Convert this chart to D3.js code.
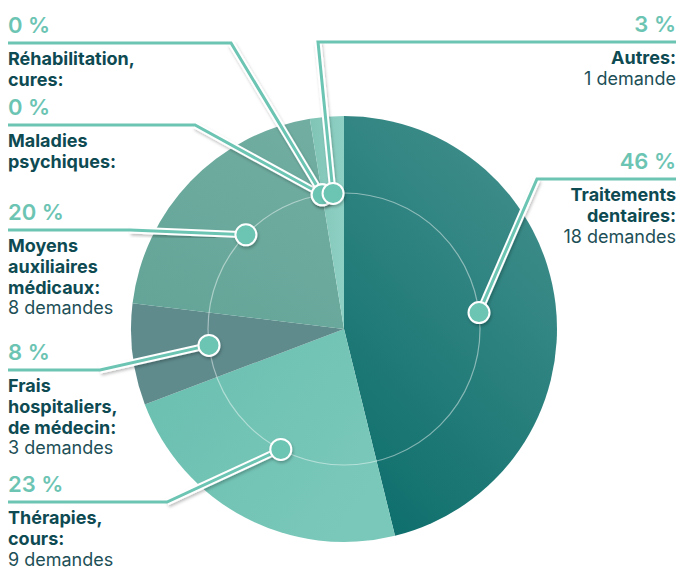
<!DOCTYPE html>
<html>
<head>
<meta charset="utf-8">
<script src="https://cdn.jsdelivr.net/npm/d3@7"></script>
<style>
  body { margin: 0; background: #fff; }
  svg { display: block; font-family: Inter, "Noto Sans", sans-serif; }
</style>
</head>
<body>
<div id="chart"></div>
<script>
// Data
const categories = ["Traitements dentaires", "Thérapies, cours", "Frais hospitaliers, de médecin",
                    "Moyens auxiliaires médicaux", "Maladies psychiques", "Réhabilitation, cures", "Autres"];
const demandes = [18, 9, 3, 8, 0, 0, 1];
const percentLabels = ["46 %", "23 %", "8 %", "20 %", "0 %", "0 %", "3 %"];
const nameLines = [
    ["Traitements", "dentaires:"],
    ["Thérapies,", "cours:"],
    ["Frais", "hospitaliers,", "de médecin:"],
    ["Moyens", "auxiliaires", "médicaux:"],
    ["Maladies", "psychiques:"],
    ["Réhabilitation,", "cures:"],
    ["Autres:"]
];
const countLabels = ["18 demandes", "9 demandes", "3 demandes", "8 demandes", "", "", "1 demande"];

// Label layout (side, underline y, elbow x)
const labelLayout = [
    { side: "right", y: 179, elbow: 537 },
    { side: "left",  y: 502, elbow: 167 },
    { side: "left",  y: 370, elbow: 100 },
    { side: "left",  y: 230, elbow: 130 },
    { side: "left",  y: 125, elbow: 195 },
    { side: "left",  y: 43,  elbow: 231 },
    { side: "right", y: 42,  elbow: 318 }
];

const sliceColors = ["url(#gDental)", "url(#gTherap)", "#5f8b8d", "url(#gMoyens)", "#6fb2a5", "#7cc0b2", "url(#gAutres)"];

const width = 678, height = 570;
const cx = 344, cy = 329;
const outerR = 213, dotR = 136;
const teal = "#6cc4b3", dark = "#0d4a52";
const lineGap = 20.8, firstGap = 22;

const svg = d3.select("#chart").append("svg")
    .attr("width", width)
    .attr("height", height);

const defs = svg.append("defs");
function linGrad(id, x1, y1, x2, y2, c1, c2) {
    const g = defs.append("linearGradient").attr("id", id)
        .attr("x1", x1).attr("y1", y1).attr("x2", x2).attr("y2", y2);
    g.append("stop").attr("offset", "0%").attr("stop-color", c1);
    g.append("stop").attr("offset", "100%").attr("stop-color", c2);
}
linGrad("gDental", "80%", "5%", "30%", "100%", "#418f8c", "#10706d");
linGrad("gTherap", "0%", "0%", "100%", "60%", "#69bfaf", "#7ac8ba");
linGrad("gMoyens", "0%", "100%", "70%", "0%", "#62a497", "#71ada1");
linGrad("gAutres", "0%", "0%", "100%", "0%", "#80c4b6", "#8ed1c4");

const shadow = defs.append("filter").attr("id", "shadow")
    .attr("x", "-50%").attr("y", "-50%").attr("width", "200%").attr("height", "200%");
shadow.append("feDropShadow").attr("dx", 1).attr("dy", 2).attr("stdDeviation", 1.5)
    .attr("flood-color", "#000").attr("flood-opacity", 0.25);

const pie = d3.pie().sort(null).value(d => d);
const arcs = pie(demandes);

const arc = d3.arc().innerRadius(0).outerRadius(outerR);
const dotArc = d3.arc().innerRadius(dotR).outerRadius(dotR);

const g = svg.append("g").attr("transform", `translate(${cx},${cy})`);

g.selectAll("path.slice")
    .data(arcs)
    .enter().append("path")
    .attr("class", "slice")
    .attr("d", arc)
    .attr("fill", (d, i) => sliceColors[i]);

// inner guide circle
g.append("circle")
    .attr("r", dotR)
    .attr("fill", "none")
    .attr("stroke", "#fff")
    .attr("stroke-opacity", 0.45)
    .attr("stroke-width", 1.2);

// leader lines
const line = d3.line();
arcs.forEach((d, i) => {
    const L = labelLayout[i];
    const [dx, dy] = dotArc.centroid(d);
    const startX = L.side === "left" ? 8 : 676;
    const pts = [[startX, L.y], [L.elbow, L.y], [cx + dx, cy + dy]];
    svg.append("path")
        .attr("d", line(pts.slice(1)))
        .attr("fill", "none")
        .attr("stroke", "#fff")
        .attr("stroke-width", 7)
        .attr("filter", "url(#shadow)");
    svg.append("path")
        .attr("d", line(pts))
        .attr("fill", "none")
        .attr("stroke", teal)
        .attr("stroke-width", 3);
});

// dots
svg.selectAll("circle.dot")
    .data(arcs)
    .enter().append("circle")
    .attr("class", "dot")
    .attr("cx", d => cx + dotArc.centroid(d)[0])
    .attr("cy", d => cy + dotArc.centroid(d)[1])
    .attr("r", 10.5)
    .attr("fill", teal)
    .attr("stroke", "#fff")
    .attr("stroke-width", 2)
    .attr("filter", "url(#shadow)");

// labels
arcs.forEach((d, i) => {
    const L = labelLayout[i];
    const x = L.side === "left" ? 8 : 676;
    const anchor = L.side === "left" ? "start" : "end";
    svg.append("text")
        .attr("x", x).attr("y", L.y - 10)
        .attr("text-anchor", anchor)
        .attr("fill", teal)
        .style("font-size", "22px")
        .style("font-weight", 600)
        .text(percentLabels[i]);
    const lines = nameLines[i];
    lines.forEach((t, j) => {
        svg.append("text")
            .attr("x", x).attr("y", L.y + firstGap + j * lineGap)
            .attr("text-anchor", anchor)
            .attr("fill", dark)
            .style("font-size", "18px")
            .style("font-weight", 700)
            .text(t);
    });
    if (countLabels[i]) {
        svg.append("text")
            .attr("x", x).attr("y", L.y + firstGap + lines.length * lineGap)
            .attr("text-anchor", anchor)
            .attr("fill", "#1d4f57")
            .style("font-size", "18px")
            .style("font-weight", 400)
            .text(countLabels[i]);
    }
});
</script>
</body>
</html>
